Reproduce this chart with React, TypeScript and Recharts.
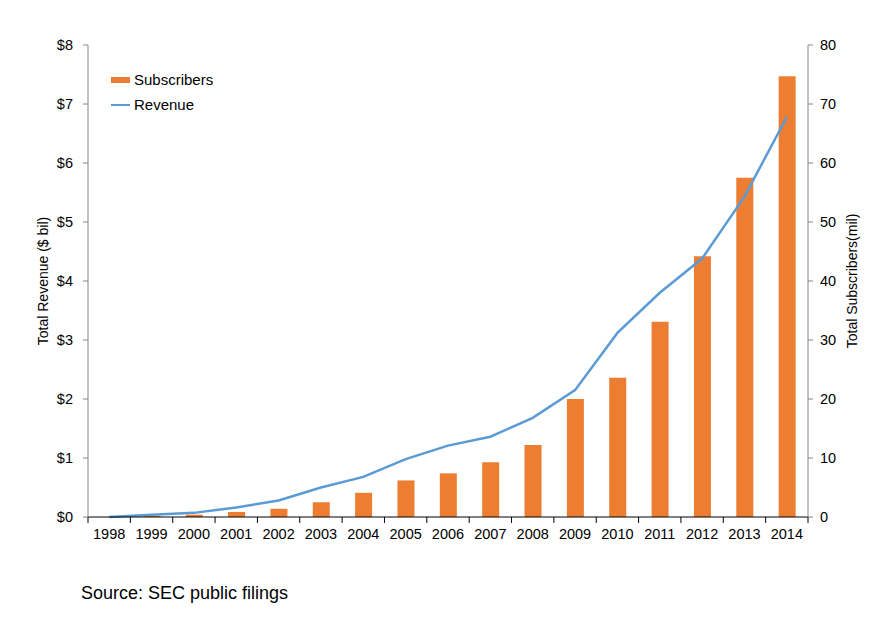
import { ComposedChart, Bar, Line, XAxis, YAxis, Legend } from "recharts";

const years = ["1998", "1999", "2000", "2001", "2002", "2003", "2004", "2005", "2006", "2007", "2008", "2009", "2010", "2011", "2012", "2013", "2014"];
const subscribers = [0, 0.2, 0.4, 0.85, 1.4, 2.5, 4.1, 6.2, 7.4, 9.3, 12.2, 20.0, 23.6, 33.1, 44.2, 57.5, 74.7];
const revenue = [0, 0.04, 0.07, 0.16, 0.28, 0.5, 0.68, 0.98, 1.21, 1.36, 1.68, 2.15, 3.12, 3.8, 4.38, 5.43, 6.78];
const revenueTicks = [0, 1, 2, 3, 4, 5, 6, 7, 8];
const subscriberTicks = [0, 10, 20, 30, 40, 50, 60, 70, 80];

const data = years.map((year, i) => ({
  year,
  subscribers: subscribers[i],
  revenue: revenue[i],
}));

const ORANGE = "#ED7D31";
const BLUE = "#5B9BD5";
const FONT = "'Liberation Sans', Arial, sans-serif";

const W = 895;
const H = 622;
const M = { top: 45, right: 27, bottom: 75, left: 28 };
const AXIS_W = 60;
const plotW = W - M.left - M.right - AXIS_W * 2;
const band = plotW / years.length;

const YearTick = (props: any) => {
  const { x, y, payload, index } = props;
  const last = index === years.length - 1;
  return (
    <g>
      <line x1={x - band / 2} x2={x - band / 2} y1={y - 8} y2={y - 2} stroke="#000" />
      {last && <line x1={x + band / 2} x2={x + band / 2} y1={y - 8} y2={y - 2} stroke="#000" />}
      <text x={x} y={y + 14} textAnchor="middle" fontSize={14.5} fill="#000" fontFamily={FONT}>
        {payload.value}
      </text>
    </g>
  );
};

const LegendBox = () => (
  <div style={{ fontFamily: FONT, fontSize: 15, color: "#000", lineHeight: "25px" }}>
    <div style={{ display: "flex", alignItems: "center" }}>
      <span style={{ display: "inline-block", width: 19, height: 6, background: ORANGE, marginRight: 4 }} />
      Subscribers
    </div>
    <div style={{ display: "flex", alignItems: "center" }}>
      <span style={{ display: "inline-block", width: 19, height: 2, background: BLUE, marginRight: 4 }} />
      Revenue
    </div>
  </div>
);

export default function App() {
  return (
    <div style={{ position: "absolute", left: 0, top: 0, width: W, height: H, background: "#fff" }}>
      <ComposedChart width={W} height={H} data={data} margin={M} barCategoryGap={0}>
        <XAxis
          dataKey="year"
          axisLine={{ stroke: "#000" }}
          tickLine={false}
          tick={<YearTick />}
          interval={0}
          height={30}
        />
        <YAxis
          yAxisId="rev"
          orientation="left"
          domain={[0, 8]}
          ticks={revenueTicks}
          width={AXIS_W}
          axisLine={{ stroke: "#868686" }}
          tickLine={{ stroke: "#868686" }}
          tickSize={5}
          tickMargin={10}
          tick={{ fill: "#000", fontSize: 14.5, fontFamily: FONT }}
          tickFormatter={(v) => `$${v}`}
          label={{
            value: "Total Revenue ($ bil)",
            angle: -90,
            position: "insideLeft",
            offset: 15,
            style: { textAnchor: "middle", fontSize: 14, fontFamily: FONT, fill: "#000" },
          }}
        />
        <YAxis
          yAxisId="sub"
          orientation="right"
          domain={[0, 80]}
          ticks={subscriberTicks}
          width={AXIS_W}
          axisLine={{ stroke: "#868686" }}
          tickLine={{ stroke: "#868686" }}
          tickSize={5}
          tickMargin={7}
          tick={{ fill: "#000", fontSize: 14.5, fontFamily: FONT }}
          label={{
            value: "Total Subscribers(mil)",
            angle: -90,
            position: "insideRight",
            offset: 16,
            style: { textAnchor: "middle", fontSize: 14, fontFamily: FONT, fill: "#000" },
          }}
        />
        <Legend
          layout="vertical"
          verticalAlign="middle"
          align="center"
          content={<LegendBox />}
          wrapperStyle={{ left: 111, top: 67, width: 150 }}
        />
        <Bar yAxisId="sub" dataKey="subscribers" name="Subscribers" fill={ORANGE} barSize={17} isAnimationActive={false} />
        <Line
          yAxisId="rev"
          type="linear"
          dataKey="revenue"
          name="Revenue"
          stroke={BLUE}
          strokeWidth={2.5}
          dot={false}
          isAnimationActive={false}
        />
      </ComposedChart>
      <div style={{ position: "absolute", left: 81, top: 583, fontFamily: FONT, fontSize: 18, color: "#000" }}>
        Source: SEC public filings
      </div>
    </div>
  );
}
